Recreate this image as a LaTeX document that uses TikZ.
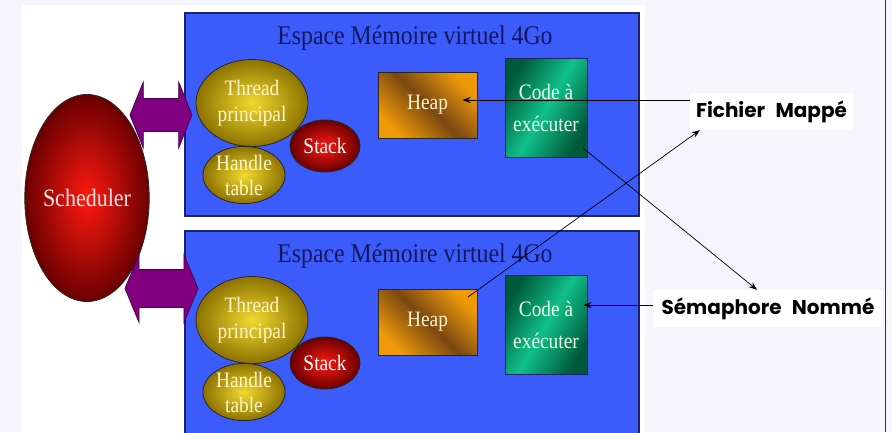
\documentclass[tikz,border=0pt]{standalone}
\usepackage{fontspec}
\setmainfont{Liberation Serif}[FakeStretch=0.88]
\newfontfamily\callfont{Poppins}
\usetikzlibrary{shapes.geometric,shapes.arrows,arrows.meta,calc}

\definecolor{fond}{HTML}{F5F5FB}
\definecolor{memblue}{HTML}{3B5BFB}
\definecolor{navyline}{HTML}{1C2470}
\definecolor{navytext}{HTML}{14185A}
\definecolor{goldin}{HTML}{F2DA30}
\definecolor{goldout}{HTML}{8C7200}
\definecolor{cream}{HTML}{FFF6CC}
\definecolor{redin}{HTML}{FF1A10}
\definecolor{redout}{HTML}{6A0000}
\definecolor{heapor}{HTML}{F09A08}
\definecolor{heapbr}{HTML}{7A4810}
\definecolor{codedk}{HTML}{005A3A}
\definecolor{codelt}{HTML}{10C08A}
\definecolor{violet}{HTML}{800080}

\tikzset{
  membox/.style={rectangle, draw=navyline, line width=1.2pt, fill=memblue, inner sep=0},
  titre/.style={text=navytext, font=\fontsize{27}{30}\selectfont},
  goldell/.style={ellipse, draw=black!85, line width=0.8pt, inner sep=0,
    inner color=goldin, outer color=goldout, text=cream, align=center,
    font=\fontsize{22}{26}\selectfont},
  redell/.style={ellipse, draw=black!85, line width=0.8pt, inner sep=0,
    inner color=redin, outer color=redout, text=white, align=center,
    font=\fontsize{22}{26}\selectfont},
  heapbox/.style={rectangle, draw=black!85, line width=0.8pt, inner sep=0,
    left color=heapor, right color=heapor, middle color=heapbr, shading angle=135,
    text=cream, font=\fontsize{22}{26}\selectfont,
    minimum width=99, minimum height=66},
  codebox/.style={rectangle, draw=navyline, line width=0.8pt, inner sep=0,
    left color=codedk, right color=codedk, middle color=codelt, shading angle=60,
    text=green!8, align=center, font=\fontsize{22}{32}\selectfont,
    minimum width=82, minimum height=99},
  biarrow/.style={double arrow, draw=violet!55!black, line width=0.8pt, fill=violet,
    inner xsep=0, double arrow head indent=0pt},
  callbox/.style={fill=white, inner sep=0,
    font=\callfont\bfseries\fontsize{20}{22}\selectfont},
  callarrow/.style={-{Stealth[length=8pt,width=6pt]}, line width=0.7pt}
}

\begin{document}
\begin{tikzpicture}[x=1pt,y=1pt]
\clip (0,0) rectangle (892,-432);
\fill [fond] (0,0) rectangle (892,-432);
\fill [white] (22,-5) rectangle (645,-432);
\draw [line width=1pt, black!80] (885,0) -- (885,-432);

% les deux espaces memoire
\node [membox, minimum width=454, minimum height=203] (espace1) at (412,-114.5) {};
\node [titre] (titre1) at (415,-38) {Espace Mémoire virtuel 4Go};
\node [membox, minimum width=454, minimum height=212] (espace2) at (412,-337) {};
\node [titre] (titre2) at (415,-256) {Espace Mémoire virtuel 4Go};

% scheduler
\node [redell, text=red!10, font=\fontsize{25}{28}\selectfont,
  minimum width=120, minimum height=207] (sched) at (87,-198) {Scheduler};
\node [biarrow, minimum height=62, minimum width=65, inner ysep=16,
  double arrow head extend=16.5, double arrow tip angle=136] (fleche1) at (161,-115) {};
\node [biarrow, minimum height=73, minimum width=67, inner ysep=18.5,
  double arrow head extend=15, double arrow tip angle=135] (fleche2) at (161.5,-288.5) {};

% contenu du premier espace
\node [goldell, minimum width=112, minimum height=87] (thread1) at (252,-103) {Thread\\principal};
\node [goldell, minimum width=82, minimum height=55, font=\fontsize{22}{25}\selectfont] (handle1) at (244,-175) {Handle\\table};
\node [redell, minimum width=70, minimum height=52] (stack1) at (325,-146) {Stack};
\node [heapbox] (heap1) at (427.5,-105) {Heap};
\node [codebox] (code1) at (546,-107.5) {Code à\\exécuter};

% contenu du second espace
\node [goldell, minimum width=112, minimum height=87] (thread2) at (252,-320) {Thread\\principal};
\node [goldell, minimum width=82, minimum height=55, font=\fontsize{22}{25}\selectfont] (handle2) at (244,-392) {Handle\\table};
\node [redell, minimum width=70, minimum height=52] (stack2) at (325,-363) {Stack};
\node [heapbox] (heap2) at (427.5,-322) {Heap};
\node [codebox] (code2) at (546,-324.5) {Code à\\exécuter};

% objets nommes
\node [callbox, minimum width=163, minimum height=37] (fichier) at (771.5,-111.5) {Fichier\hspace{0.3em} Mappé};
\node [callbox, minimum width=230, minimum height=37] (sema) at (768,-308.5) {Sémaphore\hspace{0.3em} Nommé};

\draw [callarrow] ($(fichier.west)+(0,11.5)$) -- ($(heap1.center)+(35,5)$);
\draw [callarrow] ($(heap2.center)+(40.5,25)$) -- ($(fichier.south west)+(10,0)$);
\draw [callarrow] ($(code1.center)+(37,-40.5)$) -- ($(sema.north)+(-11,0)$);
\draw [callarrow] ($(sema.west)+(0,3.5)$) -- ($(code2.east)+(-4,19.5)$);
\end{tikzpicture}
\end{document}
